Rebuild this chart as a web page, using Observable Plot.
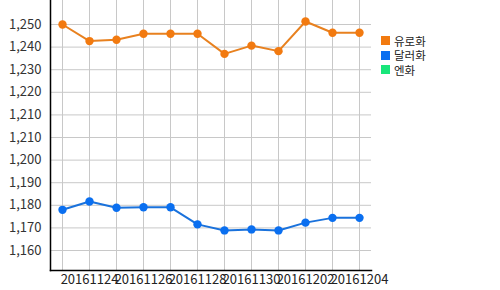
<!DOCTYPE html>
<html><head><meta charset="utf-8">
<script src="https://cdn.jsdelivr.net/npm/d3@7"></script>
<script src="https://cdn.jsdelivr.net/npm/@observablehq/plot@0.6"></script>
<style>
body{margin:0;background:#fff;font-family:"Noto Sans CJK KR","Noto Sans",sans-serif;}
#wrap{position:relative;width:500px;height:290px;}
#legend{position:absolute;left:381px;top:33.5px;font-size:11.5px;color:#222;}
.row{display:flex;align-items:center;height:14.5px;}
.row span{display:inline-block;height:14px;line-height:14px;overflow:visible;}
.sw{width:9px;height:9px;margin-right:4px;flex:none;}
</style></head>
<body><div id="wrap"><div id="legend"></div></div>
<script>
const dates = ["20161123","20161124","20161125","20161126","20161127","20161128","20161129","20161130","20161201","20161202","20161203","20161204"];
const euro = [1250.0,1243.4,1243.9,1246.3,1246.3,1246.3,1238.3,1241.6,1239.4,1251.2,1246.7,1246.7];
const dollar = [1176.2,1179.5,1177.0,1177.2,1177.2,1170.4,1168.0,1168.4,1168.0,1171.1,1173.0,1173.0];
const yTicks = [1250,1241,1232,1223,1214,1205,1196,1187,1178,1169,1160];
const yTickLabels = ["1,250","1,240","1,230","1,220","1,210","1,210","1,200","1,190","1,180","1,170","1,160"];
const xTickLabels = ["20161124","20161126","20161128","20161130","20161202","20161204"];
const seriesNames = ["유로화","달러화","엔화"];
const seriesColors = ["#f27a10","#0a6ff0","#19e67a"];
const lineColors = ["#e8811f","#1a72dc"];

const rows = [];
dates.forEach((d,i)=>{rows.push({date:d,value:euro[i],s:seriesNames[0]});});
dates.forEach((d,i)=>{rows.push({date:d,value:dollar[i],s:seriesNames[1]});});

const chart = Plot.plot({
  width:500, height:290,
  marginLeft:50, marginRight:129, marginTop:0, marginBottom:20,
  style:{fontFamily:'"Noto Sans CJK KR","Noto Sans",sans-serif', fontSize:"13px", color:"#333", background:"#fff"},
  x:{type:"point", domain:dates, padding:0.38, axis:null, label:null},
  y:{domain:[1152.04,1259.56], axis:null, label:null},
  color:{domain:seriesNames.slice(0,2), range:lineColors},
  marks:[
    Plot.gridX(dates,{stroke:"#c8c8c8", strokeOpacity:1}),
    Plot.gridY(yTicks,{stroke:"#c8c8c8", strokeOpacity:1}),
    Plot.axisY(yTicks,{tickSize:0, tickPadding:9, label:null, tickFormat:(d,i)=>yTickLabels[i], fill:"#333", fontSize:13}),
    Plot.axisX(xTickLabels,{tickSize:0, tickPadding:4, label:null, fill:"#222", fontSize:13}),
    Plot.frame({anchor:"left", stroke:"#000", strokeWidth:1.5}),
    Plot.frame({anchor:"bottom", stroke:"#000", strokeWidth:1.5}),
    Plot.line(rows,{x:"date", y:"value", stroke:"s", z:"s", strokeWidth:2}),
    Plot.dot(rows,{x:"date", y:"value", fill:(d)=>seriesColors[seriesNames.indexOf(d.s)], r:4.2, stroke:"none"})
  ]
});
document.getElementById("wrap").prepend(chart);
const lg = document.getElementById("legend");
seriesNames.forEach((n,i)=>{
  const r=document.createElement("div");r.className="row";
  r.innerHTML=`<div class="sw" style="background:${seriesColors[i]}"></div><span>${n}</span>`;
  lg.appendChild(r);
});
</script></body></html>
